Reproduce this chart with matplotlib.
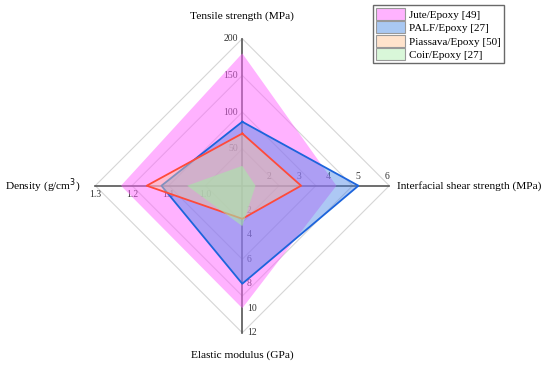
import numpy as np
import matplotlib as mpl
mpl.use('Agg')
import matplotlib.pyplot as plt
from matplotlib.patches import Patch

# axis names and scales (min at centre, max at rim)
axis_names = ['Tensile strength (MPa)', 'Interfacial shear strength (MPa)',
              'Elastic modulus (GPa)', 'Density (g/cm$^3$)']
axis_min = [0, 1, 0, 0.9]
axis_max = [200, 6, 12, 1.3]
axis_ticks = [[50, 100, 150, 200], [2, 3, 4, 5, 6], [2, 4, 6, 8, 10, 12], [1.0, 1.1, 1.2, 1.3]]
tick_text = [['50', '100', '150', '200'], ['2', '3', '4', '5', '6'],
             ['2', '4', '6', '8', '10', '12'], ['1.0', '1.1', '1.2', '1.3']]

series = ['Jute/Epoxy [49]', 'PALF/Epoxy [27]', 'Piassava/Epoxy [50]', 'Coir/Epoxy [27]']
jute = [180, 4.2, 10.0, 1.23]
palf = [87, 4.95, 8.0, 1.12]
piassava = [71, 3.0, 2.7, 1.16]
coir = [27, 1.45, 3.3, 1.05]
values = [jute, palf, piassava, coir]

fills = ['#ff66ff', '#4a86e8', '#ffc79a', '#a8e8a8']
fill_alpha = [0.5, 0.45, 0.45, 0.6]
edges = ['none', '#1c64dc', '#ff4a3a', 'none']
legend_fill = ['#ffb3ff', '#a9c8f2', '#ffe3cc', '#d9f7d9']

plt.rcParams['font.family'] = ['Liberation Serif', 'DejaVu Serif']

# directions: up, right, down, left
dirs = np.array([[0, 1], [1, 0], [0, -1], [-1, 0]])


def norm(i, v):
    return (v - axis_min[i]) / (axis_max[i] - axis_min[i])


fig = plt.figure(figsize=(5.5, 3.67), dpi=100)
ax = fig.add_axes([0, 0, 1, 1])
ax.set_xlim(-1.648, 2.093)
ax.set_ylim(-1.233, 1.263)
ax.axis('off')

# grid diamonds
for lev in [0.25, 0.5, 0.75, 1.0]:
    pts = np.vstack([dirs * lev, dirs[:1] * lev])
    ax.plot(pts[:, 0], pts[:, 1], color='#d6d6d6', lw=0.8, zorder=1)

# axis lines
for d in dirs:
    ax.plot([0, d[0]], [0, d[1]], color='#555555', lw=1.2, zorder=1)

# tick labels
for i in range(4):
    for t, s in zip(axis_ticks[i], tick_text[i]):
        r = norm(i, t)
        x, y = dirs[i] * r
        if i == 0:
            ax.text(x - 0.03, y, s, ha='right', va='center', fontsize=7, color='#333333', zorder=1)
        elif i == 1:
            ax.text(x - 0.015, y + 0.03, s, ha='center', va='bottom', fontsize=7, color='#333333', zorder=1)
        elif i == 2:
            ax.text(x + 0.03, y, s, ha='left', va='center', fontsize=7, color='#333333', zorder=1)
        else:
            ax.text(x, y - 0.03, s, ha='center', va='top', fontsize=7, color='#333333', zorder=1)

# series polygons
for k in range(len(series)):
    r = np.array([norm(i, values[k][i]) for i in range(4)])
    pts = dirs * r[:, None]
    ax.fill(pts[:, 0], pts[:, 1], color=fills[k], alpha=fill_alpha[k], lw=0, zorder=2 + k)
    if edges[k] != 'none':
        closed = np.vstack([pts, pts[:1]])
        ax.plot(closed[:, 0], closed[:, 1], color=edges[k], lw=1.3, zorder=2 + k)

# axis titles
ax.text(0, 1.15, axis_names[0], ha='center', va='center', fontsize=8.2)
ax.text(1.055, 0.0, axis_names[1], ha='left', va='center', fontsize=8.2)
ax.text(0, -1.155, axis_names[2], ha='center', va='center', fontsize=8.2)
ax.text(-1.1, 0.0, axis_names[3], ha='right', va='center', fontsize=8.2)

handles = [Patch(facecolor=legend_fill[k], edgecolor='#999999', lw=0.8) for k in range(4)]
leg = fig.legend(handles, series, loc='upper left', bbox_to_anchor=(0.678, 0.986),
                 fontsize=8, frameon=True, fancybox=False, edgecolor='#444444',
                 handlelength=2.6, handleheight=1.3, labelspacing=0.12, borderpad=0.25,
                 handletextpad=0.4, borderaxespad=0)
leg.get_frame().set_linewidth(1.0)

fig.savefig('out.png', dpi=100)
